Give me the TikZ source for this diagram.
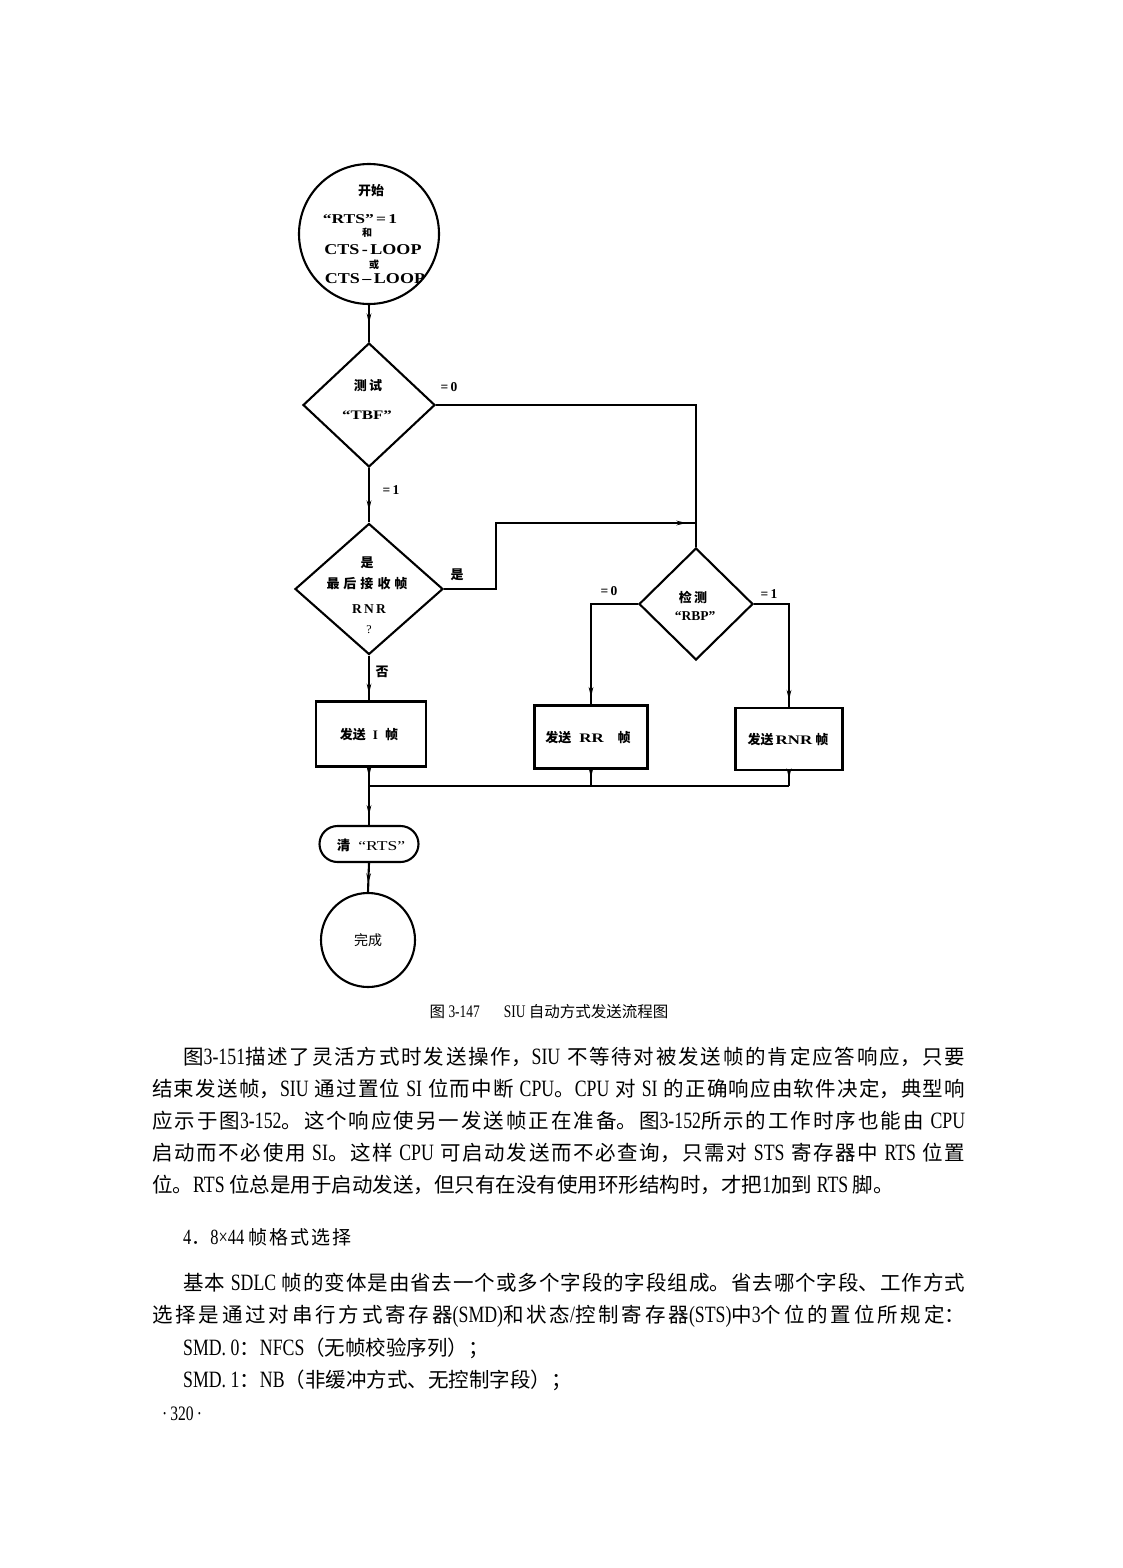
\documentclass[tikz,border=0pt]{standalone}
\usepackage{fontspec}
\usepackage{graphicx}
\setmainfont{Liberation Serif}
\newfontfamily\cjk{Noto Sans CJK SC}
\newfontfamily\enf{Liberation Serif}[FakeStretch=0.76, Scale=1.14]
\newfontfamily\enx{Liberation Serif}[FakeStretch=1.3]
\newfontfamily\eny{Liberation Serif}[FakeStretch=1.2]
\usetikzlibrary{shapes.geometric,arrows.meta,decorations.markings}
\XeTeXlinebreaklocale "zh"
\XeTeXlinebreakskip=0pt plus 2pt minus 0.2pt
\newcommand\en[1]{{\enf #1}}
\newcommand\jline[2]{\parbox[b]{#1}{\parindent=0pt\parfillskip=0pt\tolerance=10000\relax #2}}
\tikzset{
  ln/.style={line width=2.1pt},
  arr/.style={postaction={decorate},decoration={markings,mark=at position #1 with {\arrow{Stealth[length=10pt,width=4.6pt]}}}},
  arr/.default=0.5,
  dia/.style={diamond, draw, line width=2.1pt, inner sep=0pt, aspect=1},
  box/.style={rectangle, draw, line width=2.1pt, inner sep=0pt},
  lab/.style={inner sep=0pt, font=\fontsize{13.5}{13.5}\selectfont\bfseries},
  zhb/.style={inner sep=0pt, font=\cjk\bfseries\fontsize{13}{13}\selectfont},
  body/.style={anchor=base west, inner sep=0pt, font=\cjk\fontsize{20.5}{32}\selectfont},
}
\begin{document}
\begin{tikzpicture}[x=1pt,y=-1pt]
\path[use as bounding box, fill=white] (0,0) rectangle (1122,1568);

% start circle
\node[circle, draw, line width=2.1pt, minimum size=140pt, inner sep=0pt] (c1) at (369,234) {};
\node[zhb] (c1a) at (371,191) {开始};
\node[inner sep=0pt, font=\enx\bfseries\fontsize{13.5}{13.5}\selectfont] (c1b) at (360,219) {“RTS”\,=\,1};
\node[inner sep=0pt, font=\cjk\bfseries\fontsize{10}{10}\selectfont] (c1c) at (367,233) {和};
\node[inner sep=0pt, font=\eny\bfseries\fontsize{15}{15}\selectfont] (c1d) at (373,250) {CTS\,-\,LOOP};
\node[inner sep=0pt, font=\cjk\bfseries\fontsize{10}{10}\selectfont] (c1e) at (374,265) {或};
\node[inner sep=0pt, font=\eny\bfseries\fontsize{15}{15}\selectfont] (c1f) at (375,279) {CTS\,–\,LOOP};

% diamond 1
\node[dia, minimum width=132pt, minimum height=124pt] (d1) at (369,405) {};
\node[zhb] (d1a) at (368,386) {测\,试};
\node[inner sep=0pt, font=\enx\bfseries\fontsize{13}{13}\selectfont] (d1b) at (367,415) {“TBF”};
\node[lab] (l0a) at (449,387) {=\,0};
\node[lab] (l1a) at (391,490) {=\,1};

% diamond 2
\node[dia, minimum width=148pt, minimum height=131pt] (d2) at (369,589) {};
\node[zhb] (d2a) at (367,563) {是};
\node[zhb] (d2b) at (367,584) {最\hspace{4pt}后\hspace{4pt}接\hspace{4pt}收\hspace{4pt}帧};
\node[lab] (d2c) at (369,609) {R\,N\,R};
\node[lab, font=\fontsize{12}{12}\selectfont] (d2d) at (369,630) {?};
\node[zhb] (lyes) at (457,575) {是};
\node[zhb] (lno) at (382,672) {否};

% diamond 3
\node[dia, minimum width=114pt, minimum height=112pt] (d3) at (696,604) {};
\node[zhb] (d3a) at (693,597) {检\,测};
\node[lab] (d3b) at (695,616) {“RBP”};
\node[lab] (l0b) at (609,591) {=\,0};
\node[lab] (l1b) at (769,594) {=\,1};

% boxes
\node[box, minimum width=110pt, minimum height=65pt] (bi) at (371,734) {};
\node[zhb] (bit) at (369,735) {发送\hspace{7pt}{\fontspec{Liberation Serif}\bfseries I}\hspace{7pt}帧};
\node[box, minimum width=113pt, minimum height=63pt] (brr) at (591,737) {};
\node[zhb] (brrt) at (588,738) {发送\hspace{8pt}{\enx\bfseries RR}\hspace{14pt}帧};
\node[box, minimum width=107pt, minimum height=62pt] (brn) at (789,739) {};
\node[zhb] (brnt) at (788,740) {发送\hspace{2pt}{\enx\bfseries RNR}\hspace{3pt}帧};

% terminal and end
\node[rectangle, draw, line width=2.1pt, rounded corners=18pt, minimum width=99pt, minimum height=36pt, inner sep=0pt] (tm) at (369,844) {};
\node[inner sep=0pt, font=\fontsize{13.5}{13.5}\selectfont] (tmt) at (371,845) {{\cjk\bfseries 清}\hspace{8pt}{\enx “RTS”}};
\node[circle, draw, line width=2.1pt, minimum size=94pt, inner sep=0pt] (c2) at (368,940) {};
\node[inner sep=0pt, font=\cjk\fontsize{14}{14}\selectfont] (c2t) at (368,940) {完成};

% connectors
\coordinate (j1) at (696,523);
\coordinate (m1) at (369,786);
\draw[ln, arr] (c1.south) -- (d1.north);
\draw[ln, arr=0.78] (d1.south) -- (d2.north);
\draw[ln] (d1.east) -| (d3.north);
\draw[ln, arr=0.97] (d2.east) -- ++(52,0) |- (j1);
\draw[ln, arr=0.85] (d2.south) -- (d2.south |- bi.north);
\draw[ln, arr=0.95] (d3.west) -| (brr.north);
\draw[ln, arr=0.95] (d3.east) -| (brn.north);
\draw[ln, arr] (d2.south |- bi.south) -- (m1);
\draw[ln, arr] (brr.south) -- (brr.south |- m1);
\draw[ln, arr] (brn.south) -- (brn.south |- m1);
\draw[ln] (m1) -- (brn.south |- m1);
\draw[ln, arr=0.75] (m1) -- (tm.north);
\draw[ln, arr=0.7] (tm.south) -- (c2.north);

% caption
\node[inner sep=0pt, font=\cjk\fontsize{15.5}{15.5}\selectfont] (cap) at (549,1012) {图 \en{3-147}\hspace{24pt}\en{SIU} 自动方式发送流程图};

% body text
\node[body] (p1a) at (183,1064) {\jline{782pt}{图\en{3-151}描述了灵活方式时发送操作，\en{SIU} 不等待对被发送帧的肯定应答响应，只要}};
\node[body] (p1b) at (152,1096) {\jline{813pt}{结束发送帧，\en{SIU} 通过置位 \en{SI} 位而中断 \en{CPU}。\en{CPU} 对 \en{SI} 的正确响应由软件决定，典型响}};
\node[body] (p1c) at (152,1128) {\jline{813pt}{应示于图\en{3-152}。这个响应使另一发送帧正在准备。图\en{3-152}所示的工作时序也能由 \en{CPU}}};
\node[body] (p1d) at (152,1160) {\jline{813pt}{启动而不必使用 \en{SI}。这样 \en{CPU} 可启动发送而不必查询，只需对 \en{STS} 寄存器中 \en{RTS} 位置}};
\node[body] (p1e) at (152,1192) {位。\en{RTS} 位总是用于启动发送，但只有在没有使用环形结构时，才把\en{1}加到 \en{RTS} 脚。};

\node[body, font=\cjk\fontsize{19}{19}\selectfont] (hd) at (183,1244) {\en{4}．\en{8×44} 帧\hspace{2pt}格\hspace{2pt}式\hspace{2pt}选\hspace{2pt}择};

\node[body] (p2a) at (183,1290) {\jline{782pt}{基本 \en{SDLC} 帧的变体是由省去一个或多个字段的字段组成。省去哪个字段、工作方式}};
\node[body] (p2b) at (152,1322) {\jline{813pt}{选择是通过对串行方式寄存器\en{(SMD)}和状态\en{/}控制寄存器\en{(STS)}中\en{3}个位的置位所规定：}};
\node[body] (p2c) at (183,1355) {\en{SMD. 0}：\en{NFCS}（无帧校验序列）；};
\node[body] (p2d) at (183,1387) {\en{SMD. 1}：\en{NB}（非缓冲方式、无控制字段）；};

\node[body, font=\fontsize{18}{18}\selectfont] (pg) at (162,1420) {\en{·\hspace{3pt}320\hspace{3pt}·}};
\end{tikzpicture}
\end{document}
